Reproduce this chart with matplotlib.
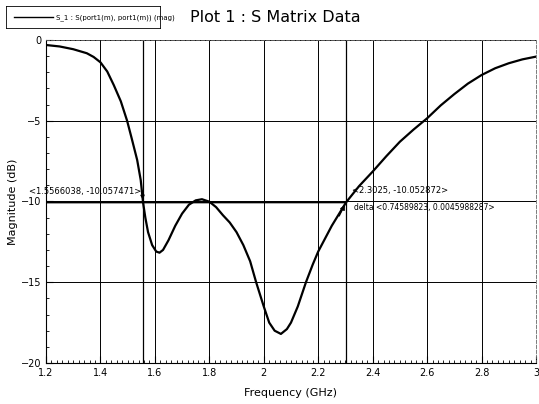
import matplotlib
matplotlib.use("Agg")
import matplotlib.pyplot as plt
import numpy as np

# S11 magnitude
freq_ghz = [1.2, 1.25, 1.3, 1.35, 1.375, 1.4, 1.425, 1.449, 1.475, 1.498,
            1.515, 1.535, 1.548, 1.5566, 1.565, 1.575, 1.59, 1.605, 1.617, 1.63,
            1.65, 1.675, 1.7, 1.725, 1.75, 1.773, 1.8, 1.825, 1.85, 1.875,
            1.9, 1.925, 1.95, 1.972, 2.0, 2.02, 2.04, 2.063, 2.085, 2.1,
            2.125, 2.155, 2.18, 2.2, 2.25, 2.3025, 2.35, 2.4, 2.45, 2.5,
            2.55, 2.6, 2.65, 2.7, 2.75, 2.8, 2.85, 2.9, 2.95, 3.0]
mag_db = [-0.31, -0.4, -0.57, -0.82, -1.05, -1.38, -1.95, -2.79, -3.8, -5.0,
          -6.1, -7.43, -8.67, -10.06, -11.0, -11.9, -12.7, -13.1, -13.17, -13.0,
          -12.4, -11.5, -10.75, -10.2, -9.93, -9.86, -10.01, -10.35, -10.85, -11.3,
          -11.9, -12.7, -13.7, -15.0, -16.5, -17.5, -18.0, -18.2, -17.9, -17.5,
          -16.5, -15.0, -13.9, -13.1, -11.5, -10.05, -9.05, -8.15, -7.2, -6.3,
          -5.55, -4.85, -4.05, -3.35, -2.7, -2.17, -1.75, -1.44, -1.2, -1.03]

marker_1 = (1.5566038, -10.057471)
marker_2 = (2.3025, -10.052872)
delta = (0.74589823, 0.0045988287)

x_ticks = [1.2, 1.4, 1.6, 1.8, 2.0, 2.2, 2.4, 2.6, 2.8, 3.0]
x_labels = ["1.2", "1.4", "1.6", "1.8", "2", "2.2", "2.4", "2.6", "2.8", "3"]
y_ticks = [0, -5, -10, -15, -20]

plt.rcParams["font.family"] = ["DejaVu Sans"]

fig = plt.figure(figsize=(5.39, 4.04), dpi=100)
ax = fig.add_axes([0.0853, 0.1015, 0.9091, 0.7995])

ax.plot(freq_ghz, mag_db, color="black", lw=1.6, zorder=3,
        solid_joinstyle="round")

ax.set_xlim(1.2, 3.0)
ax.set_ylim(-20, 0)
ax.set_xticks(x_ticks)
ax.set_xticklabels(x_labels)
ax.set_yticks(y_ticks)
ax.set_xticks(np.arange(1.2, 3.001, 0.02), minor=True)
ax.set_yticks(np.arange(-20, 0.01, 1), minor=True)
ax.tick_params(which="major", direction="in", length=5, labelsize=7, width=0.8)
ax.tick_params(which="minor", direction="in", length=2.5, width=0.6)
ax.grid(True, which="major", color="black", lw=0.7)

for side in ["top", "right"]:
    ax.spines[side].set_linewidth(0.6)
    ax.spines[side].set_linestyle((0, (4, 2)))
    ax.spines[side].set_color("0.4")

# marker lines
ax.axvline(marker_1[0], color="black", lw=0.9, zorder=2)
ax.axvline(marker_2[0], color="black", lw=0.9, zorder=2)
ax.plot([1.2, marker_2[0]], [marker_1[1], marker_2[1]], color="black", lw=1.4, zorder=2)

ax.annotate("", xy=marker_1, xytext=(marker_1[0] - 0.004, marker_1[1] + 0.9),
            arrowprops=dict(arrowstyle="-|>", color="black", lw=0.8, mutation_scale=6))
ax.annotate("", xy=marker_2, xytext=(marker_2[0] - 0.03, marker_2[1] - 1.0),
            arrowprops=dict(arrowstyle="-|>", color="black", lw=0.9, mutation_scale=7))

ax.text(1.5566 - 0.005, -9.4, "<%.7f, %.6f>" % marker_1, fontsize=6, ha="right", va="center")
ax.text(2.325, -9.35, "<%.4f, %.6f>" % marker_2, fontsize=6, ha="left", va="center")
ax.text(2.33, -10.35, "delta <%.8f, %.10f>" % delta, fontsize=5.5, ha="left", va="center")

ax.set_xlabel("Frequency (GHz)", fontsize=8, labelpad=7)
ax.set_ylabel("Magnitude (dB)", fontsize=8, labelpad=2)

fig.text(0.353, 0.957, "Plot 1 : S Matrix Data", fontsize=11.5, ha="left", va="center")

# legend box at the top left
leg_ax = fig.add_axes([0.012, 0.93, 0.285, 0.055])
leg_ax.set_xlim(0, 1)
leg_ax.set_ylim(0, 1)
leg_ax.set_xticks([])
leg_ax.set_yticks([])
leg_ax.plot([0.05, 0.3], [0.5, 0.5], color="black", lw=1.0)
leg_ax.text(0.32, 0.5, "S_1 : S(port1(m), port1(m)) (mag)", fontsize=5, va="center")
for s in leg_ax.spines.values():
    s.set_linewidth(0.6)

fig.savefig("out.png", dpi=100)
